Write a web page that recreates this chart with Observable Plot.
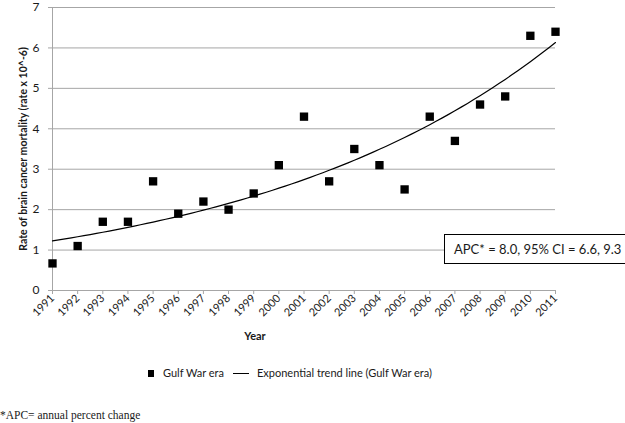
<!DOCTYPE html>
<html><head><meta charset="utf-8">
<script src="https://cdn.jsdelivr.net/npm/d3@7"></script>
<script src="https://cdn.jsdelivr.net/npm/@observablehq/plot@0.6"></script>
<style>
body{margin:0;background:#fff;}
#wrap{position:relative;width:625px;height:423px;font-family:Lato,"Open Sans",sans-serif;color:#1a1a1a;overflow:hidden;}
#wrap svg{position:absolute;left:0;top:0;}
.box{position:absolute;left:444px;top:234px;width:178px;height:28px;border:1px solid #000;background:#fff;font-size:13px;line-height:28px;padding-left:9px;box-sizing:content-box;white-space:nowrap;}
.leg{position:absolute;top:366px;font-size:11px;white-space:nowrap;}
.sq{position:absolute;left:148px;top:370px;width:6px;height:7px;background:#000;}
.ln{position:absolute;left:233px;top:373px;width:16px;height:1px;background:#000;}
.foot{position:absolute;left:0;top:409px;font-family:"Liberation Serif","DejaVu Serif",serif;font-size:11.5px;white-space:nowrap;}
</style></head><body><div id="wrap"></div>
<script>
const years = [1991,1992,1993,1994,1995,1996,1997,1998,1999,2000,2001,2002,2003,2004,2005,2006,2007,2008,2009,2010,2011];
const rates = [0.67,1.1,1.7,1.7,2.7,1.9,2.2,2.0,2.4,3.1,4.3,2.7,3.5,3.1,2.5,4.3,3.7,4.6,4.8,6.3,6.4];
const yTicks = [0,1,2,3,4,5,6,7];
const seriesName = "Gulf War era";
const trendName = "Exponential trend line (Gulf War era)";
const apcText = "APC* = 8.0, 95% CI = 6.6, 9.3";
const footnote = "*APC= annual percent change";
const xLabel = "Year";
const yLabel = "Rate of brain cancer mortality (rate x 10^-6)";

const data = years.map((year, i) => ({year, rate: rates[i]}));
// Exponential trend line as Excel computes it: least squares of ln(rate) on year
const mx = d3.mean(years), ml = d3.mean(rates, r => Math.log(r));
const b = d3.sum(years, (y, i) => (y - mx) * (Math.log(rates[i]) - ml)) / d3.sum(years, y => (y - mx) ** 2);
const a = ml - b * mx;
const trend = d3.range(years[0], years[years.length - 1] + 0.001, 0.25).map(t => ({year: t, rate: Math.exp(a + b * t)}));

const gray = "#a6a6a6";
const chart = Plot.plot({
  width: 625, height: 350,
  marginLeft: 52, marginRight: 70, marginTop: 7, marginBottom: 60,
  style: {fontFamily: "Lato, 'Open Sans', sans-serif", fontSize: "11px", color: "#1a1a1a", background: "transparent", overflow: "visible"},
  x: {domain: [years[0], years[years.length - 1]]},
  y: {domain: [yTicks[0], yTicks[yTicks.length - 1]]},
  marks: [
    Plot.gridY(yTicks, {stroke: gray, strokeOpacity: 1}),
    Plot.ruleY([yTicks[0]], {stroke: gray}),
    Plot.ruleX([years[0]], {stroke: gray}),
    Plot.axisY(yTicks, {tickSize: 4, tickPadding: 9, stroke: gray, fill: "#1a1a1a", label: null, fontSize: 12}),
    Plot.axisX(years, {tickSize: 4, tickPadding: 2, tickRotate: -45, tickFormat: d => String(d), stroke: gray, fill: "#1a1a1a", label: null}),
    Plot.line(trend, {x: "year", y: "rate", stroke: "#000", strokeWidth: 1.2}),
    Plot.dot(data, {x: "year", y: "rate", symbol: "square", r: 4.7, fill: "#000", stroke: "none"}),
    Plot.text([yLabel], {text: d => d, frameAnchor: "left", textAnchor: "middle", dx: -29, rotate: -90, fontWeight: "bold", fontSize: 10.5}),
    Plot.text([xLabel], {text: d => d, frameAnchor: "bottom", textAnchor: "middle", dy: 49, dx: -49, fontWeight: "bold", fontSize: 11})
  ]
});
const wrap = document.getElementById("wrap");
wrap.appendChild(chart);

const box = document.createElement("div"); box.className = "box"; box.textContent = apcText; wrap.appendChild(box);
const sq = document.createElement("div"); sq.className = "sq"; wrap.appendChild(sq);
const l1 = document.createElement("div"); l1.className = "leg"; l1.style.left = "163px"; l1.textContent = seriesName; wrap.appendChild(l1);
const ln = document.createElement("div"); ln.className = "ln"; wrap.appendChild(ln);
const l2 = document.createElement("div"); l2.className = "leg"; l2.style.left = "257px"; l2.textContent = trendName; wrap.appendChild(l2);
const ft = document.createElement("div"); ft.className = "foot"; ft.textContent = footnote; wrap.appendChild(ft);
</script>
</body></html>
